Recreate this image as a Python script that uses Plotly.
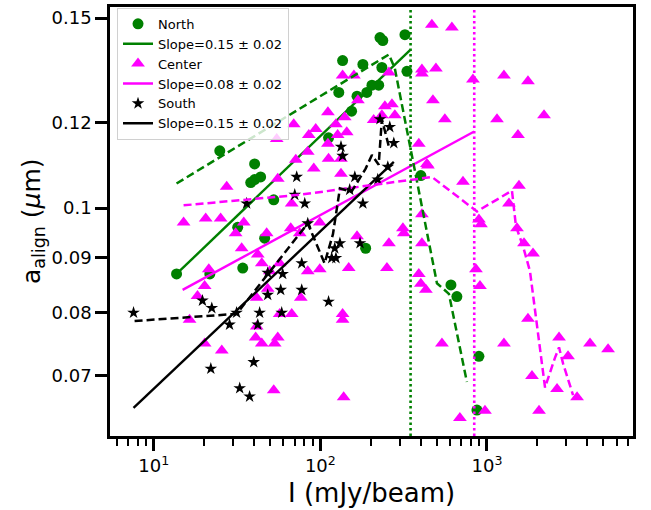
import numpy as np
import plotly.graph_objects as go

# ---------------- data ----------------
north_I = [13.7, 21.7, 24.9, 34.2, 31.9, 46.3, 40.3, 38.2, 40.3, 43.8, 52.5, 112, 129, 136, 154,
           166, 180, 190, 204, 224, 234, 228, 237, 322, 331, 401, 187, 608, 660, 895, 871]
north_a = [0.0869, 0.0869, 0.1130, 0.0880, 0.0960, 0.0938, 0.1099, 0.1056, 0.1063, 0.1069, 0.1018,
           0.1162, 0.1280, 0.1370, 0.1230, 0.1270, 0.1359, 0.1280, 0.1300, 0.1300, 0.1350, 0.1439,
           0.1430, 0.1448, 0.1339, 0.1072, 0.0918, 0.0849, 0.0828, 0.0729, 0.0650]

center_I = [54.7, 69.2, 27.4, 55.5, 71.2, 67.3, 15.1, 20.5, 25.2, 34.7, 31.0, 47.6, 66.4, 75.2, 33.7,
            42.1, 21.4, 20.2, 44.5, 57.0, 49.7, 84.0, 48.3, 18.3, 16.4, 20.2, 25.6, 41.5, 76.3, 67.3,
            57.0, 41.5, 40.9, 44.5, 53.2, 55.5, 52.5, 138,
            136, 159, 258, 168, 111, 244, 269, 234, 280, 209, 140, 93.8, 124, 85.2, 127, 144, 111,
            84.0, 112, 133, 91.3, 133, 99.2, 166, 258, 313, 317, 99.2, 148, 251, 136, 136,
            467, 616, 407, 407, 494, 824, 1265, 1763, 474, 559, 1149, 2201, 1536, 390, 436, 442,
            718, 1557, 407, 895, 921, 1356, 1515, 1669, 1890, 390, 401, 430, 859, 908, 1763, 537,
            1265, 2709, 3068, 4157, 5335, 1864, 2635, 3475, 2054, 688, 973, 407]
center_a = [0.1159, 0.1196, 0.1047, 0.1065, 0.1109, 0.1010, 0.0970, 0.0978, 0.0978, 0.0970, 0.0948,
            0.0948, 0.0958, 0.0948, 0.0918, 0.0906, 0.0878, 0.0847, 0.0889, 0.0889, 0.0874, 0.0874,
            0.0842, 0.0829, 0.0788, 0.0749, 0.0738, 0.0826, 0.0826, 0.0798, 0.0798, 0.0777, 0.0759,
            0.0749, 0.0749, 0.0759, 0.0678, 0.0668,
            0.1327, 0.1327, 0.1336, 0.1259, 0.1227, 0.1243, 0.1248, 0.1219, 0.1219, 0.1207, 0.1214,
            0.1184, 0.1196, 0.1169, 0.1169, 0.1176, 0.1147, 0.1128, 0.1111, 0.1111, 0.1088, 0.1076,
            0.0970, 0.0942, 0.0928, 0.0958, 0.0948, 0.0878, 0.0880, 0.0880, 0.0798, 0.0788,
            0.1479, 0.1470, 0.1344, 0.1333, 0.1347, 0.1316, 0.1327, 0.1311, 0.1259, 0.1209, 0.1209,
            0.1219, 0.1169, 0.1147, 0.1099, 0.1095, 0.1058, 0.1049, 0.0987, 0.0976, 0.0966, 0.1010,
            0.0958, 0.0928, 0.0908, 0.0869, 0.0851, 0.0840, 0.0878, 0.0847, 0.0790, 0.0749, 0.0749,
            0.0759, 0.0729, 0.0749, 0.0740, 0.0699, 0.0680, 0.0668, 0.0649, 0.0639, 0.0649, 0.0928]

south_I = [7.56, 19.6, 22.3, 22.0, 28.5, 31.4, 32.8, 37.6, 39.8, 42.1, 43.2, 48.3, 59.4, 48.3, 57.8,
           77.3, 58.6, 77.3, 36.1, 72.1, 70.2, 80.6, 84.0, 112, 117, 124, 122, 131, 173, 133, 136,
           150, 161, 180, 221, 228, 261, 276, 254]
south_a = [0.0800, 0.0821, 0.0808, 0.0710, 0.0780, 0.0800, 0.0681, 0.0669, 0.0720, 0.0780, 0.0800,
           0.0871, 0.0869, 0.0831, 0.0840, 0.0840, 0.0800, 0.0889, 0.1010, 0.1069, 0.1029, 0.1010,
           0.0968, 0.0819, 0.0899, 0.0899, 0.0918, 0.0928, 0.0928, 0.1140, 0.1118, 0.1040, 0.1069,
           0.1010, 0.1063, 0.1209, 0.1189, 0.1149, 0.1092]

# running medians (dashed)
north_med_I = [13.7, 258, 280, 501, 591, 758]
north_med_a = [0.1054, 0.1388, 0.1347, 0.0852, 0.0833, 0.0690]
center_med_I = [15.1, 75.2, 396, 467, 871, 1413, 1494, 1646, 1813, 1998, 2232, 2563, 2709, 2863, 3288]
center_med_a = [0.1006, 0.1029, 0.1065, 0.1069, 0.0993, 0.1038, 0.0962, 0.0922, 0.0874, 0.0781,
                0.0682, 0.0727, 0.0743, 0.0718, 0.0671]
south_med_I = [7.67, 31.4, 40.3, 57.0, 84.0, 106, 119, 131, 154, 187, 204, 224, 234, 258]
south_med_a = [0.0786, 0.0798, 0.0838, 0.0897, 0.0968, 0.0889, 0.0946, 0.1043, 0.1036, 0.1088,
               0.1120, 0.1097, 0.1209, 0.1140]

# power-law fits: a = 10**logA * I**slope
north_fit = dict(slope=0.148, logA=-1.2292, Imin=13.7, Imax=348)
center_fit = dict(slope=0.0838, logA=-1.1740, Imin=14.9, Imax=839)
south_fit = dict(slope=0.1459, logA=-1.3133, Imin=7.56, Imax=276)

# thresholds (vertical dotted)
north_thr = 348
center_thr = 839

x_limits = [5.46, 7530]
y_limits = [0.0615, 0.1536]

y_tickvals = [0.07, 0.08, 0.09, 0.1, 0.12, 0.15]
y_ticktext = ["0.07", "0.08", "0.09", "0.1", "0.12", "0.15"]
x_tickvals = [10, 100, 1000]
x_ticktext = ["10<sup>1</sup>", "10<sup>2</sup>", "10<sup>3</sup>"]
x_minor = [6, 7, 8, 9, 20, 30, 40, 50, 60, 70, 80, 90, 200, 300, 400, 500, 600, 700, 800, 900,
           2000, 3000, 4000, 5000, 6000, 7000]

GREEN = "#008000"
MAG = "#ff00ff"
BLACK = "#000000"
FONT = "DejaVu Sans"
DASH = "8px,4px"


def fit_line(p):
    xs = np.array([p["Imin"], p["Imax"]])
    return xs, 10 ** (p["logA"] + p["slope"] * np.log10(xs))


fig = go.Figure()

# North
fig.add_trace(go.Scatter(x=north_I, y=north_a, mode="markers", name="North", legendrank=1,
                         marker=dict(symbol="circle", size=11, color=GREEN)))
fx, fy = fit_line(north_fit)
fig.add_trace(go.Scatter(x=fx, y=fy, mode="lines", name="Slope=0.15 ± 0.02", legendrank=2,
                         line=dict(color=GREEN, width=2.4)))
# Center
fig.add_trace(go.Scatter(x=center_I, y=center_a, mode="markers", name="Center", legendrank=3,
                         marker=dict(symbol="triangle-up", size=12, color=MAG)))
fx, fy = fit_line(center_fit)
fig.add_trace(go.Scatter(x=fx, y=fy, mode="lines", name="Slope=0.08 ± 0.02", legendrank=4,
                         line=dict(color=MAG, width=2.4)))
# South
fig.add_trace(go.Scatter(x=south_I, y=south_a, mode="markers", name="South", legendrank=5,
                         marker=dict(symbol="star", size=9.5, color=BLACK)))
fx, fy = fit_line(south_fit)
fig.add_trace(go.Scatter(x=fx, y=fy, mode="lines", name="Slope=0.15 ± 0.02", legendrank=6,
                         line=dict(color=BLACK, width=2.4)))

# running medians
for xs, ys, c in [(north_med_I, north_med_a, GREEN), (center_med_I, center_med_a, MAG),
                  (south_med_I, south_med_a, BLACK)]:
    fig.add_trace(go.Scatter(x=xs, y=ys, mode="lines", showlegend=False,
                             line=dict(color=c, width=2.5, dash=DASH)))

# thresholds
for thr, c in [(north_thr, GREEN), (center_thr, MAG)]:
    fig.add_trace(go.Scatter(x=[thr, thr], y=y_limits, mode="lines", showlegend=False,
                             line=dict(color=c, width=2.6, dash="2.5px,3px")))

axis_common = dict(type="log", showline=True, linewidth=2.6, linecolor="black", mirror=True,
                   ticks="outside", ticklen=12, tickwidth=2.6, tickcolor="black",
                   showgrid=False, zeroline=False, tickfont=dict(family=FONT, size=18, color="black"))

fig.update_layout(
    width=651, height=510,
    margin=dict(l=110, r=18, t=4, b=74),
    paper_bgcolor="white", plot_bgcolor="white",
    font=dict(family=FONT, color="black"),
    xaxis=dict(axis_common, range=list(np.log10(x_limits)), tickmode="array",
               tickvals=x_tickvals, ticktext=x_ticktext,
               minor=dict(ticks="outside", ticklen=7, tickwidth=1.9, tickcolor="black",
                          tickmode="array", tickvals=x_minor, showgrid=False)),
    yaxis=dict(axis_common, range=list(np.log10(y_limits)), tickmode="array",
               tickvals=y_tickvals, ticktext=y_ticktext),
    legend=dict(x=0.0134, y=0.998, xanchor="left", yanchor="top",
                bgcolor="rgba(255,255,255,0.8)", bordercolor="#d0d0d0", borderwidth=1,
                font=dict(family=FONT, size=13, color="black"), tracegroupgap=0),
    annotations=[
        dict(text="I (mJy/beam)", xref="paper", yref="paper", x=0.5, y=-0.132,
             xanchor="center", yanchor="middle", showarrow=False,
             font=dict(family=FONT, size=26, color="black")),
        dict(text="a<sub>align</sub> (<i>μ</i>m)", xref="paper", yref="paper", x=-0.148, y=0.5,
             xanchor="center", yanchor="middle", textangle=-90, showarrow=False,
             font=dict(family=FONT, size=25, color="black")),
    ],
)

fig.write_html("out.html")
